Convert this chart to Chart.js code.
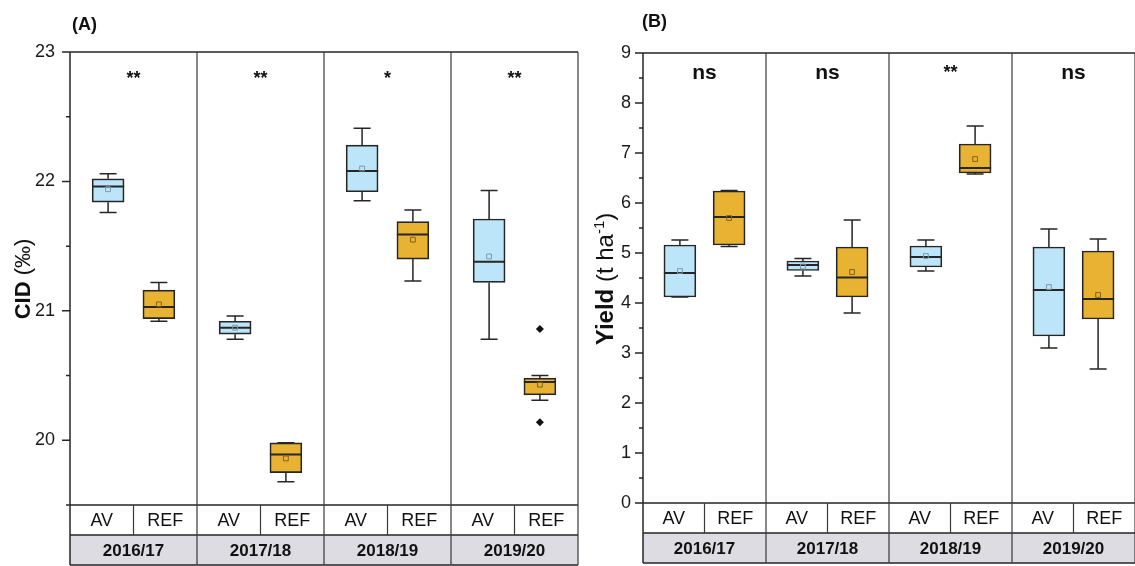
<!DOCTYPE html>
<html>
<head>
<meta charset="utf-8">
<title>CID and yield by season</title>
<script src="https://cdn.jsdelivr.net/npm/chart.js@4.4.1/dist/chart.umd.min.js"></script>
<style>
    html, body { margin: 0; padding: 0; background: #fff; }
    #wrap { position: relative; width: 1135px; height: 566px; overflow: hidden; }
    canvas { position: absolute; top: 0; }
    #cidChart { left: 0; }
    #yieldChart { left: 580px; }
</style>
</head>
<body>
<div id="wrap">
    <canvas id="cidChart" width="580" height="566"></canvas>
    <canvas id="yieldChart" width="555" height="566"></canvas>
</div>
<script>
// 1. Data (box stats are [min, q1, median, q3, max])
const seasons = ['2016/17', '2017/18', '2018/19', '2019/20'];
const treatments = ['AV', 'REF'];

const cidAV = [
    [21.76, 21.84, 21.96, 22.02, 22.06],
    [20.78, 20.82, 20.87, 20.92, 20.96],
    [21.85, 21.92, 22.08, 22.28, 22.41],
    [20.78, 21.22, 21.38, 21.71, 21.93]
];
const cidREF = [
    [20.92, 20.94, 21.03, 21.16, 21.22],
    [19.68, 19.75, 19.89, 19.98, 19.98],
    [21.23, 21.40, 21.59, 21.69, 21.78],
    [20.31, 20.35, 20.45, 20.48, 20.50]
];
const cidAVMean = [21.94, 20.87, 22.10, 21.42];
const cidREFMean = [21.05, 19.86, 21.55, 20.43];
const cidAVOutliers = [[], [], [], []];
const cidREFOutliers = [[], [], [], [20.86, 20.14]];
const cidSig = ['**', '**', '*', '**'];
const cidTickLabels = [20, 21, 22, 23];

const yieldAV = [
    [4.12, 4.12, 4.60, 5.16, 5.26],
    [4.54, 4.65, 4.76, 4.84, 4.89],
    [4.64, 4.72, 4.92, 5.14, 5.26],
    [3.10, 3.34, 4.26, 5.12, 5.48]
];
const yieldREF = [
    [5.13, 5.16, 5.72, 6.24, 6.25],
    [3.80, 4.12, 4.51, 5.12, 5.66],
    [6.58, 6.60, 6.70, 7.18, 7.54],
    [2.68, 3.68, 4.08, 5.04, 5.28]
];
const yieldAVMean = [4.64, 4.73, 4.94, 4.32];
const yieldREFMean = [5.70, 4.62, 6.88, 4.16];
const yieldAVOutliers = [[], [], [], []];
const yieldREFOutliers = [[], [], [], []];
const yieldSig = ['ns', 'ns', '**', 'ns'];
const yieldTickLabels = [0, 1, 2, 3, 4, 5, 6, 7, 8, 9];

// 2. Style
const FONT = '"Liberation Sans", Arial, sans-serif';
const INK = '#262626';
const FILL = { AV: '#bde5fa', REF: '#e8b233' };
const MEAN_INK = { AV: '#7f98aa', REF: '#86621c' };
const SLOT = { AV: 0.3, REF: 0.7 };
const BOX_W = 32;
const CAP_W = 17;
const ROW_H = 30;

function buildRows(av, ref, avMean, refMean, avOut, refOut) {
    const rows = [];
    seasons.forEach((s, i) => {
        rows.push({ t: 'AV', x: i + SLOT.AV, stats: av[i], mean: avMean[i], out: avOut[i] });
        rows.push({ t: 'REF', x: i + SLOT.REF, stats: ref[i], mean: refMean[i], out: refOut[i] });
    });
    return rows;
}

function drawRotated(ctx, segs, cx, cy) {
    ctx.save();
    ctx.translate(cx, cy);
    ctx.rotate(-Math.PI / 2);
    ctx.textAlign = 'left';
    ctx.textBaseline = 'alphabetic';
    ctx.fillStyle = '#111';
    let total = 0;
    segs.forEach(s => { ctx.font = s.font; s.w = ctx.measureText(s.text).width; total += s.w; });
    let pos = -total / 2;
    segs.forEach(s => {
        ctx.font = s.font;
        ctx.fillText(s.text, pos, -(s.rise || 0));
        pos += s.w;
    });
    ctx.restore();
}

// 3. Box plot drawing plugin (whiskers, medians, frame, category table, titles)
function panelPlugin(cfg) {
    return {
        id: 'panel',
        beforeDatasetsDraw(chart) {
            const { ctx, scales: { x, y } } = chart;
            ctx.save();
            ctx.strokeStyle = INK;
            ctx.lineWidth = 1.5;
            cfg.rows.forEach(r => {
                const cx = x.getPixelForValue(r.x);
                const [mn, q1, , q3, mx] = r.stats;
                ctx.beginPath();
                ctx.moveTo(cx, y.getPixelForValue(q3));
                ctx.lineTo(cx, y.getPixelForValue(mx));
                ctx.moveTo(cx, y.getPixelForValue(q1));
                ctx.lineTo(cx, y.getPixelForValue(mn));
                [mn, mx].forEach(v => {
                    const py = y.getPixelForValue(v);
                    ctx.moveTo(cx - CAP_W / 2, py);
                    ctx.lineTo(cx + CAP_W / 2, py);
                });
                ctx.stroke();
            });
            ctx.restore();
        },
        afterDatasetDraw(chart, args) {
            if (chart.data.datasets[args.index].type !== 'bar') return;
            const { ctx, scales: { x, y } } = chart;
            ctx.save();
            ctx.strokeStyle = INK;
            ctx.lineWidth = 2;
            ctx.beginPath();
            cfg.rows.forEach(r => {
                const cx = x.getPixelForValue(r.x);
                const py = y.getPixelForValue(r.stats[2]);
                ctx.moveTo(cx - BOX_W / 2, py);
                ctx.lineTo(cx + BOX_W / 2, py);
            });
            ctx.stroke();
            ctx.restore();
        },
        afterDraw(chart) {
            const { ctx, chartArea: a, scales: { x, y } } = chart;
            const t0 = a.bottom, t1 = t0 + ROW_H, t2 = t1 + ROW_H;
            ctx.save();

            // year row background
            ctx.fillStyle = '#dcdce2';
            ctx.fillRect(a.left, t1, a.right - a.left, ROW_H);

            // frame
            ctx.strokeStyle = INK;
            ctx.lineWidth = 1.5;
            ctx.beginPath();
            ctx.moveTo(a.left, a.top); ctx.lineTo(a.right, a.top);
            ctx.moveTo(a.left, a.top); ctx.lineTo(a.left, t2);
            ctx.moveTo(a.left, t0); ctx.lineTo(a.right, t0);
            ctx.moveTo(a.left, t1); ctx.lineTo(a.right, t1);
            ctx.moveTo(a.left, t2); ctx.lineTo(a.right, t2);
            ctx.stroke();

            // y ticks: long on labelled values, short otherwise
            ctx.beginPath();
            y.ticks.forEach(tk => {
                const py = y.getPixelForValue(tk.value);
                const len = cfg.tickLabels.includes(tk.value) ? 8 : 4;
                ctx.moveTo(a.left - len, py);
                ctx.lineTo(a.left, py);
            });
            ctx.stroke();

            // season dividers and treatment dividers
            ctx.lineWidth = 1.2;
            ctx.strokeStyle = '#3a3a3a';
            ctx.beginPath();
            for (let i = 1; i <= seasons.length; i++) {
                const px = x.getPixelForValue(i);
                ctx.moveTo(px, a.top); ctx.lineTo(px, t2);
            }
            seasons.forEach((s, i) => {
                const px = x.getPixelForValue(i + 0.5);
                ctx.moveTo(px, t0); ctx.lineTo(px, t1);
            });
            ctx.stroke();

            // table text
            ctx.fillStyle = '#111';
            ctx.textAlign = 'center';
            ctx.textBaseline = 'middle';
            seasons.forEach((s, i) => {
                ctx.font = '18px ' + FONT;
                treatments.forEach((t, j) => {
                    ctx.fillText(t, x.getPixelForValue(i + 0.25 + j * 0.5), t0 + ROW_H / 2 + 1);
                });
                ctx.font = 'bold 17px ' + FONT;
                ctx.fillText(s, x.getPixelForValue(i + 0.5), t1 + ROW_H / 2 + 1);
            });

            // significance marks
            ctx.textBaseline = 'alphabetic';
            cfg.sig.forEach((s, i) => {
                const isNs = s === 'ns';
                ctx.font = (isNs ? 'bold 21px ' : 'bold 18px ') + FONT;
                ctx.fillText(s, x.getPixelForValue(i + 0.5), a.top + (isNs ? cfg.nsDrop : cfg.starDrop));
            });

            // panel label
            ctx.textAlign = 'left';
            ctx.font = 'bold 18px ' + FONT;
            ctx.fillText(cfg.panel, cfg.panelX, cfg.panelY);
            ctx.restore();

            drawRotated(ctx, cfg.title, cfg.titleX, cfg.titleY);
        }
    };
}

// 4. Chart factory
function makeChart(canvasId, rows, range, tickLabels, yWidth, padding, extra) {
    const boxData = rows.map(r => ({ x: r.x, y: [r.stats[1], r.stats[3]] }));
    const meanData = rows.map(r => ({ x: r.x, y: r.mean }));
    const outData = [];
    rows.forEach(r => r.out.forEach(v => outData.push({ x: r.x, y: v })));

    return new Chart(document.getElementById(canvasId), {
        type: 'bar',
        data: {
            datasets: [
                {
                    type: 'line', data: meanData, showLine: false, order: 0,
                    pointStyle: 'rect', pointRadius: 3.4, borderWidth: 1,
                    pointBorderColor: rows.map(r => MEAN_INK[r.t]),
                    pointBackgroundColor: 'rgba(0,0,0,0)'
                },
                {
                    type: 'line', data: outData, showLine: false, order: 0,
                    pointStyle: 'rectRot', pointRadius: 4, pointBorderWidth: 0,
                    pointBackgroundColor: '#111', pointBorderColor: '#111'
                },
                {
                    type: 'bar', data: boxData, order: 1,
                    backgroundColor: rows.map(r => FILL[r.t]),
                    borderColor: INK, borderWidth: 1.7, borderSkipped: false,
                    barThickness: BOX_W
                }
            ]
        },
        options: {
            responsive: false,
            animation: false,
            events: [],
            layout: { padding, autoPadding: false },
            plugins: { legend: { display: false }, tooltip: { enabled: false } },
            scales: {
                x: { type: 'linear', min: 0, max: seasons.length, offset: false, display: false },
                y: {
                    min: range[0], max: range[1],
                    afterFit: s => { s.width = yWidth; },
                    grid: { display: false, drawTicks: false, tickLength: 0 },
                    border: { display: false },
                    ticks: {
                        stepSize: 0.5, padding: extra.tickPad, color: '#1a1a1a',
                        font: { family: FONT, size: 18 },
                        callback: v => (tickLabels.includes(v) ? String(v) : '')
                    }
                }
            }
        },
        plugins: [panelPlugin(Object.assign({ rows, tickLabels }, extra))]
    });
}

// 5. Build both panels
const cidRows = buildRows(cidAV, cidREF, cidAVMean, cidREFMean, cidAVOutliers, cidREFOutliers);
makeChart('cidChart', cidRows, [19.5, 23], cidTickLabels, 70,
    { top: 52, bottom: 61, left: 0, right: 2 },
    {
        tickPad: 15, sig: cidSig, starDrop: 32, nsDrop: 27,
        panel: '(A)', panelX: 72, panelY: 30,
        titleX: 30, titleY: 279,
        title: [
            { text: 'CID', font: 'bold 22px ' + FONT },
            { text: ' (‰)', font: '22px ' + FONT }
        ]
    });

const yieldRows = buildRows(yieldAV, yieldREF, yieldAVMean, yieldREFMean, yieldAVOutliers, yieldREFOutliers);
makeChart('yieldChart', yieldRows, [0, 9], yieldTickLabels, 63,
    { top: 53, bottom: 63, left: 0, right: 0 },
    {
        tickPad: 12, sig: yieldSig, starDrop: 25, nsDrop: 26,
        panel: '(B)', panelX: 62, panelY: 27,
        titleX: 33, titleY: 279,
        title: [
            { text: 'Yield', font: 'bold 24px ' + FONT },
            { text: ' (t ha', font: '24px ' + FONT },
            { text: '-1', font: '15px ' + FONT, rise: 9 },
            { text: ')', font: '24px ' + FONT }
        ]
    });
</script>
</body>
</html>
